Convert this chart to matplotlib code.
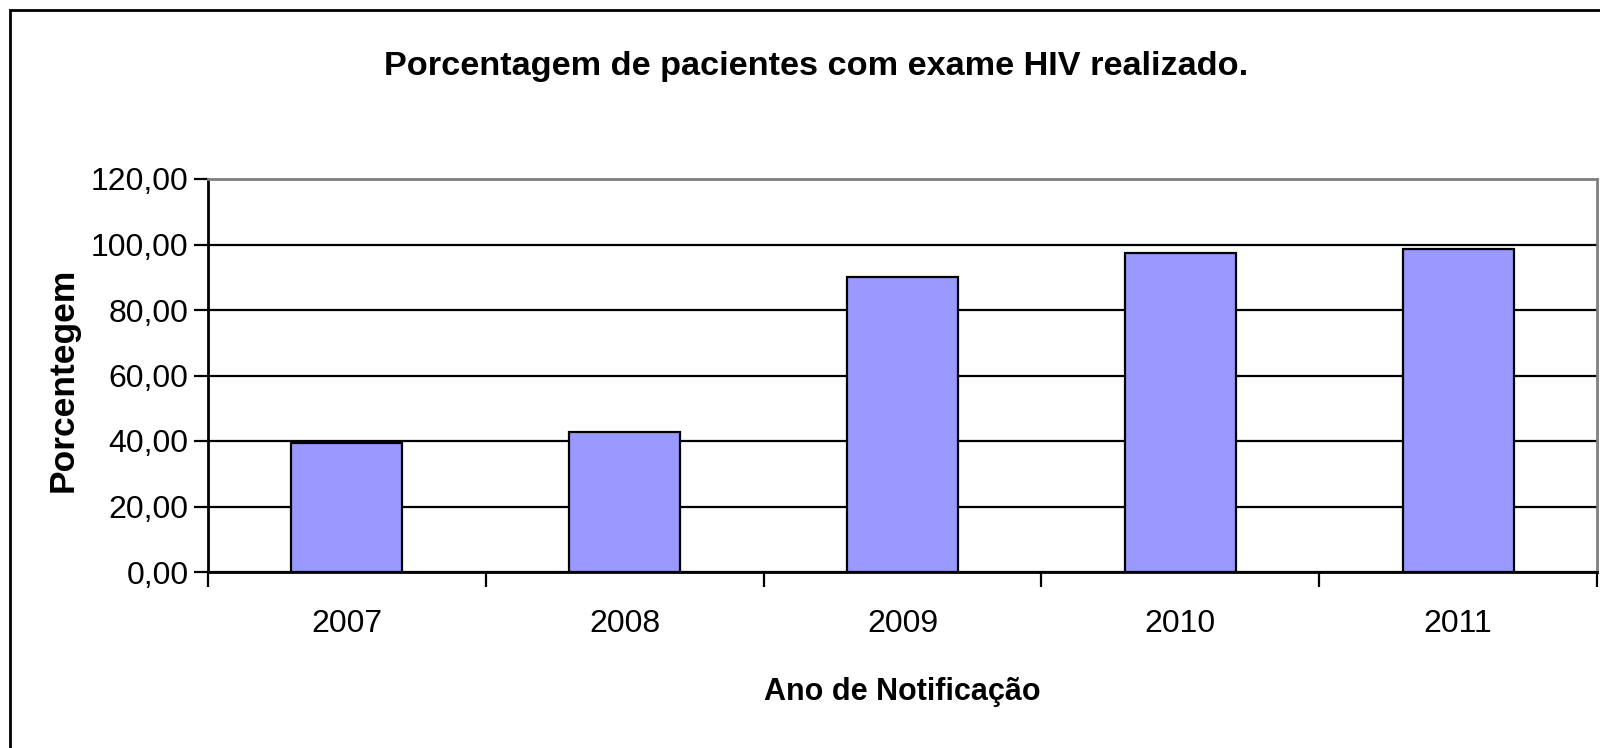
import matplotlib
matplotlib.use("Agg")
import matplotlib.pyplot as plt
import matplotlib.patches as patch

years = ["2007", "2008", "2009", "2010", "2011"]
pct = [39.3, 42.7, 90.0, 97.5, 98.5]
yticks = [0, 20, 40, 60, 80, 100, 120]
ytick_labels = ["0,00", "20,00", "40,00", "60,00", "80,00", "100,00", "120,00"]

font = ["Liberation Sans", "DejaVu Sans"]

def main():
    W, H = 1600, 748
    fig = plt.figure(figsize=(W / 100, H / 100), dpi=100)
    fig.patch.set_facecolor("white")

    # outer chart border (runs off right and bottom edge)
    fig.add_artist(patch.Rectangle((10 / W, -0.05), 1.2, 1 - 10 / H + 0.05,
                                   transform=fig.transFigure, fill=False,
                                   edgecolor="black", linewidth=2))

    ax = fig.add_axes([208 / W, 1 - 572 / H, (1597 - 208) / W, (572 - 179) / H])
    x = list(range(len(years)))
    ax.bar(x, pct, width=0.4, color="#9999FF", edgecolor="black",
           linewidth=1.6, zorder=3)

    ax.set_xlim(-0.5, len(years) - 0.5)
    ax.set_ylim(0, 120)
    ax.set_yticks(yticks)
    ax.set_yticklabels(ytick_labels, family=font, fontsize=23)
    ax.yaxis.grid(True, color="black", linewidth=1.6, zorder=0)
    ax.set_axisbelow(True)

    ax.set_xticks(x)
    ax.set_xticklabels(years, family=font, fontsize=23)
    ax.tick_params(axis="x", length=0, pad=27)
    ax.set_xticks([i - 0.5 for i in range(len(years) + 1)], minor=True)
    ax.tick_params(axis="x", which="minor", length=11, width=1.6, direction="out")
    ax.tick_params(axis="y", length=10, width=1.6, direction="out", pad=4)

    for s in ["left", "bottom"]:
        ax.spines[s].set_color("black")
        ax.spines[s].set_linewidth(2)
    for s in ["top", "right"]:
        ax.spines[s].set_color("#808080")
        ax.spines[s].set_linewidth(2)

    fig.text(63 / W, 1 - 380 / H, "Porcentegem", family=font, fontweight="bold",
             fontsize=25.5, rotation=90, ha="center", va="center")
    fig.text((208 + 1597) / 2 / W, 1 - 692 / H, "Ano de Notificação", family=font,
             fontweight="bold", fontsize=22, ha="center", va="center")
    fig.text(816 / W, 1 - 67 / H, "Porcentagem de pacientes com exame HIV realizado.",
             family=font, fontweight="bold", fontsize=24.7, ha="center", va="center")

    fig.savefig("out.png", dpi=100)
    plt.close(fig)

if __name__ == '__main__': main()
